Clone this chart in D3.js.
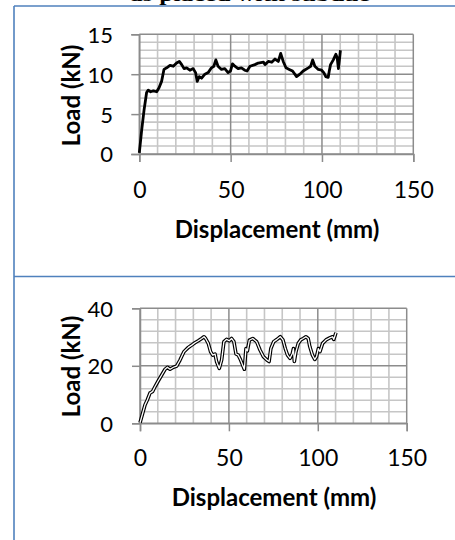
<!DOCTYPE html>
<html>
<head>
<meta charset="utf-8">
<script src="https://cdn.jsdelivr.net/npm/d3@7/dist/d3.min.js"></script>
<style>
  html, body { margin: 0; padding: 0; background: #fff; }
  svg { display: block; }
</style>
</head>
<body>
<svg id="chart" width="455" height="540"></svg>
<script>
// ---------- DATA ----------
const xTicks = [0, 50, 100, 150];
const topYTicks = [0, 5, 10, 15];
const botYTicks = [0, 20, 40];
const xLabel = "Displacement (mm)";
const yLabel = "Load (kN)";
const clippedTitle = "as placed with subdue";

// Top panel series (displacement mm, load kN)
const topX = [0, 1.3, 2.6, 4, 4.9, 6.2, 7.7, 9.5, 10.8, 12.2, 13.5, 15, 16.8, 18.6, 20.4, 21.9, 23.2, 24.5, 25.9, 27.7,
  29.5, 30.8, 31.7, 32.8, 34.1, 35.9, 37.7, 39.5, 40.8, 41.9, 43.1, 45, 46.8, 48.6, 49.9, 51, 52.3, 54.1, 55.9, 57.7,
  59, 60.6, 63.3, 65.1, 68, 68.8, 70.6, 72.5, 74.3, 76.1, 77.4, 78.8, 80.3, 82.1, 83.9, 86.1, 87.9, 89.7, 92.5, 93.8,
  94.9, 96.1, 98, 99.8, 101, 102.1, 103.4, 104, 104.7, 106.2, 107.6, 108.3, 109, 109.8, 110.1];
const topY = [0.15, 3.0, 5.5, 7.7, 8.0, 7.8, 7.9, 7.8, 8.3, 9.1, 10.6, 10.8, 11.1, 11.0, 11.4, 11.6, 11.2, 10.7, 10.8, 10.5,
  10.7, 10.2, 9.1, 9.7, 9.5, 10.0, 10.2, 10.8, 11.0, 11.8, 11.0, 10.6, 10.7, 10.2, 10.4, 11.3, 11.0, 10.7, 10.8, 10.5,
  10.4, 11.0, 11.2, 11.4, 11.5, 11.2, 11.6, 11.5, 11.9, 11.6, 12.6, 11.6, 10.8, 10.6, 10.4, 9.7, 10.0, 10.4, 10.8, 11.0,
  11.8, 11.0, 10.6, 10.5, 10.2, 9.7, 9.6, 10.4, 11.2, 11.8, 12.5, 12.1, 10.7, 12.3, 13.0];

// Bottom panel series (displacement mm, load kN)
const botX = [0, 1.5, 2.8, 4.1, 5.6, 7.1, 8.4, 10.3, 12.2, 14.1, 15.4, 16.9, 18.8, 20.6, 22.5, 24.7, 27.2, 29.1, 30.9, 32.8,
  34.7, 36, 36.9, 38.4, 39.7, 40.9, 42.2, 43.1, 44.6, 45.9, 47.2, 48.7, 50.2, 51.5, 52.8, 54, 55.3, 56.6, 58.1, 58.7,
  59.6, 60.4, 61.5, 63.4, 65.6, 67.5, 69.4, 71.4, 72.6, 73.6, 75.2, 77.1, 78.9, 80.4, 81.7, 83.0, 84.4, 85.7, 86.3, 86.8,
  87.7, 89, 90.4, 91.8, 93.3, 94.6, 95.5, 97.0, 98.3, 99.3, 100.3, 101.2, 102.7, 104.6, 106.4, 108.3, 109, 110.2];
const botY = [0.2, 3.5, 6.4, 8.1, 10.5, 11.1, 12.7, 14.8, 16.8, 18.8, 19.5, 18.8, 19.5, 19.9, 22.0, 24.9, 26.4, 27.2, 28.0, 28.7,
  29.5, 30.1, 29.5, 27.8, 24.9, 23.7, 24.1, 21.4, 19.1, 22.0, 28.4, 29.2, 28.7, 29.5, 28.4, 24.1, 23.7, 22.0, 19.7, 18.8,
  26.0, 25.2, 28.9, 29.5, 28.4, 25.5, 23.2, 22.0, 21.5, 26.0, 28.4, 29.2, 30.1, 29.0, 26.0, 23.7, 22.6, 24.3, 26.0, 21.5,
  24.9, 27.8, 29.0, 29.5, 30.1, 29.5, 26.7, 23.7, 22.2, 23.2, 26.0, 24.9, 27.8, 29.0, 29.6, 30.1, 29.2, 31.5];

// ---------- DRAW ----------
const svg = d3.select("#chart");
const FONT = "Lato, Carlito, 'Open Sans', sans-serif";
const BLUE = "#4f81bd";

// clipped title fragment at the very top (cut off in the reference too)
svg.append("text")
  .attr("x", 130).attr("y", 1)
  .attr("font-family", "'Liberation Serif', serif")
  .attr("font-weight", "bold").attr("font-size", 18)
  .attr("textLength", 240).attr("lengthAdjust", "spacingAndGlyphs")
  .attr("fill", "#000")
  .text(clippedTitle);

// table borders
const borders = [
  [14, 6, 455, 6],
  [14, 6, 14, 540],
  [14, 276.5, 455, 276.5]
];
svg.selectAll("line.border").data(borders).enter().append("line")
  .attr("class", "border")
  .attr("x1", d => d[0]).attr("y1", d => d[1]).attr("x2", d => d[2]).attr("y2", d => d[3])
  .attr("stroke", BLUE).attr("stroke-width", 1.6);

function panel(cfg) {
  const x = d3.scaleLinear().domain([0, 150]).range([cfg.x0, cfg.x1]);
  const y = d3.scaleLinear().domain([0, cfg.yMax]).range([cfg.y0, cfg.y1]);
  const g = svg.append("g");

  // minor grid
  const xMinor = d3.range(0, 151, 10).filter(v => v % 50 !== 0);
  const yMinor = d3.range(0, cfg.yMax + 0.001, cfg.yMinor).filter(v => Math.abs(v / cfg.yMajor - Math.round(v / cfg.yMajor)) > 1e-6);
  g.selectAll("line.vmin").data(xMinor).enter().append("line")
    .attr("x1", d => x(d)).attr("x2", d => x(d)).attr("y1", y(0)).attr("y2", y(cfg.yMax))
    .attr("stroke", "#c6c6c6").attr("stroke-width", 1.6);
  g.selectAll("line.hmin").data(yMinor).enter().append("line")
    .attr("y1", d => y(d)).attr("y2", d => y(d)).attr("x1", x(0)).attr("x2", x(150))
    .attr("stroke", "#c6c6c6").attr("stroke-width", 1.6);
  // major grid
  g.selectAll("line.vmaj").data(xTicks).enter().append("line")
    .attr("x1", d => x(d)).attr("x2", d => x(d)).attr("y1", y(0)).attr("y2", y(cfg.yMax))
    .attr("stroke", "#8c8c8c").attr("stroke-width", 1.5);
  g.selectAll("line.hmaj").data(cfg.yTicks).enter().append("line")
    .attr("y1", d => y(d)).attr("y2", d => y(d)).attr("x1", x(0)).attr("x2", x(150))
    .attr("stroke", "#8c8c8c").attr("stroke-width", 1.5);

  // axes (ticks outward)
  const xAxis = d3.axisBottom(x).tickValues(xTicks).tickSize(8).tickPadding(10).tickFormat(d3.format("d"));
  const yAxis = d3.axisLeft(y).tickValues(cfg.yTicks).tickSize(8).tickPadding(10).tickFormat(d3.format("d"));
  const gx = g.append("g").attr("transform", `translate(0,${y(0)})`).call(xAxis);
  const gy = g.append("g").attr("transform", `translate(${x(0)},0)`).call(yAxis);
  [gx, gy].forEach(a => {
    a.select(".domain").attr("stroke", "#8c8c8c").attr("stroke-width", 1.5);
    a.selectAll(".tick line").attr("stroke", "#8c8c8c").attr("stroke-width", 1.5);
    a.selectAll(".tick text").attr("fill", "#000").attr("font-family", FONT);
  });
  gx.selectAll(".tick text").attr("font-size", 23).attr("y", cfg.xLabelY - y(0)).attr("dy", 0);
  gy.selectAll(".tick text").attr("font-size", 22).attr("x", 113 - x(0)).attr("dy", "0.36em");

  // series
  const line = d3.line().x((d, i) => x(cfg.xs[i])).y((d, i) => y(cfg.ys[i])).curve(d3.curveLinear);
  const pts = cfg.xs.map((v, i) => i);
  if (cfg.double) {
    g.append("path").datum(pts).attr("d", line).attr("fill", "none")
      .attr("stroke", "#000").attr("stroke-width", 3.6).attr("stroke-linejoin", "round");
    g.append("path").datum(pts).attr("d", line).attr("fill", "none")
      .attr("stroke", "#fff").attr("stroke-width", 1.3).attr("stroke-linejoin", "round");
  } else {
    g.append("path").datum(pts).attr("d", line).attr("fill", "none")
      .attr("stroke", "#000").attr("stroke-width", 2.8).attr("stroke-linejoin", "round");
  }

  // axis titles
  g.append("text").attr("x", cfg.xTitleX).attr("y", cfg.xTitleY)
    .attr("text-anchor", "middle").attr("font-family", FONT).attr("font-weight", "bold")
    .attr("font-size", 24).attr("fill", "#000").text(xLabel);
  g.append("text")
    .attr("transform", `translate(${cfg.yTitleX},${cfg.yTitleY}) rotate(-90)`)
    .attr("text-anchor", "middle").attr("dy", "0.35em")
    .attr("font-family", FONT).attr("font-weight", "bold")
    .attr("font-size", 24).attr("fill", "#000").text(yLabel);
}

panel({
  x0: 139.3, x1: 413.3, y0: 154, y1: 34.3, yMax: 15, yMajor: 5, yMinor: 1,
  yTicks: topYTicks, xs: topX, ys: topY, double: false,
  xLabelY: 198, xTitleX: 277, xTitleY: 238, yTitleX: 72, yTitleY: 95.5
});
panel({
  x0: 140, x1: 406.7, y0: 423.3, y1: 308.3, yMax: 40, yMajor: 20, yMinor: 4,
  yTicks: botYTicks, xs: botX, ys: botY, double: true,
  xLabelY: 466.5, xTitleX: 274, xTitleY: 506, yTitleX: 72, yTitleY: 366.5
});
</script>
</body>
</html>
